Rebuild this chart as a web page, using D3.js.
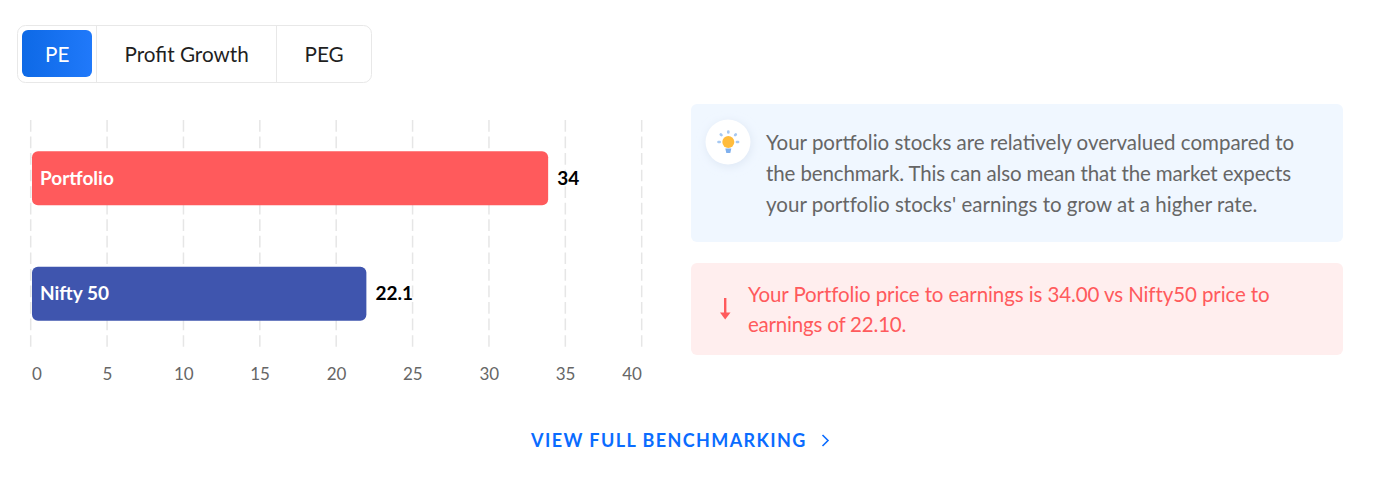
<!DOCTYPE html>
<html>
<head>
<meta charset="utf-8">
<script src="https://cdn.jsdelivr.net/npm/d3@7"></script>
<style>
  html, body { margin: 0; padding: 0; background: #fff; }
  #chart { position: relative; width: 1390px; height: 496px; overflow: hidden; }
  svg { position: absolute; left: 0; top: 0; display: block; }
  .t { position: absolute; font-family: Lato, sans-serif; white-space: nowrap; line-height: 1; }
</style>
</head>
<body>
<div id="chart"></div>
<script>
const categories = ["Portfolio", "Nifty 50"];
const values = [34, 22.1];
const barColors = ["#ff5a5c", "#3f55ae"];
const ticks = [0, 5, 10, 15, 20, 25, 30, 35, 40];
const tabs = ["PE", "Profit Growth", "PEG"];
const tipLines = [
  "Your portfolio stocks are relatively overvalued compared to",
  "the benchmark. This can also mean that the market expects",
  "your portfolio stocks' earnings to grow at a higher rate."
];
const alertLines = [
  "Your Portfolio price to earnings is 34.00 vs Nifty50 price to",
  "earnings of 22.10."
];

const chart = d3.select("#chart");
const svg = chart.append("svg")
  .attr("width", 1390)
  .attr("height", 496);

// html text sits on top of the svg, baseline = top + roughly 0.86 of size
function label(x, base, size, color, str, opts) {
  opts = opts || {};
  const el = chart.append("div")
    .attr("class", "t")
    .style("top", (base - size * 0.86) + "px")
    .style("left", x + "px")
    .style("font-size", size + "px")
    .style("color", color)
    .style("font-weight", opts.weight || 400)
    .style("letter-spacing", opts.spacing || "normal")
    .text(str);
  if (opts.center) el.style("transform", "translateX(-50%)");
  return el;
}

const defs = svg.append("defs");
const grad = defs.append("linearGradient").attr("id", "tabBlue");
grad.append("stop").attr("offset", "0%").attr("stop-color", "#0d69e6");
grad.append("stop").attr("offset", "100%").attr("stop-color", "#2079fa");
const blur = defs.append("filter").attr("id", "soft")
  .attr("x", "-50%").attr("y", "-50%").attr("width", "200%").attr("height", "200%");
blur.append("feGaussianBlur").attr("stdDeviation", 4);

// Tabs
svg.append("rect")
  .attr("x", 17.5).attr("y", 25.5)
  .attr("width", 354).attr("height", 57).attr("rx", 8)
  .attr("fill", "#fff").attr("stroke", "#e8e8e8");
[96.5, 276.5].forEach(x => {
  svg.append("line")
    .attr("x1", x).attr("x2", x).attr("y1", 26).attr("y2", 82)
    .attr("stroke", "#e8e8e8");
});
svg.append("rect")
  .attr("x", 22).attr("y", 30)
  .attr("width", 70).attr("height", 47).attr("rx", 6)
  .attr("fill", "url(#tabBlue)");
const tabX = [45, 124.5, 304.5];
tabs.forEach((d, i) => label(tabX[i], 61.6, 20.7, i === 0 ? "#fff" : "#1f1f1f", d));

// Scales
const xScale = d3.scaleLinear().domain([0, 40]).range([31, 642]);
const yScale = d3.scaleBand()
  .domain(categories)
  .range([120, 352])
  .paddingInner(0.532)
  .paddingOuter(0.27);

// Grid
svg.selectAll(".grid")
  .data(ticks)
  .enter()
  .append("line")
    .attr("class", "grid")
    .attr("x1", d => xScale(d) - 0.3)
    .attr("x2", d => xScale(d) - 0.3)
    .attr("y1", 120)
    .attr("y2", 347)
    .attr("stroke", "#e6e6e6")
    .attr("stroke-width", 1.5)
    .attr("stroke-dasharray", "11.7 4.85");

// Axis labels
const tickShift = d => d === 0 ? 6 : (d === 40 ? -10 : 0);
ticks.forEach(d => {
  label(xScale(d) + tickShift(d), 380, 17, "#666", d, { center: true });
});

// Bars
svg.selectAll(".bar")
  .data(values)
  .enter()
  .append("rect")
    .attr("class", "bar")
    .attr("x", 32)
    .attr("y", (d, i) => yScale(categories[i]))
    .attr("width", d => xScale(d) - 32 - 2.2)
    .attr("height", yScale.bandwidth())
    .attr("rx", 6)
    .attr("fill", (d, i) => barColors[i]);

values.forEach((d, i) => {
  const base = yScale(categories[i]) + yScale.bandwidth() / 2 + 5.9;
  label(40, base, 19, "#fff", categories[i], { weight: 700 });
  label(xScale(d) + 7, base, 19, "#000", d, { weight: 700 });
});

// Tip panel
svg.append("rect")
  .attr("x", 691).attr("y", 104)
  .attr("width", 652).attr("height", 138).attr("rx", 6)
  .attr("fill", "#f0f7ff");
svg.append("circle")
  .attr("cx", 729).attr("cy", 144).attr("r", 23)
  .attr("fill", "#dfe8f5").attr("filter", "url(#soft)");
svg.append("circle")
  .attr("cx", 728).attr("cy", 142).attr("r", 22.5)
  .attr("fill", "#fff");

// Bulb icon
const bulb = svg.append("g").attr("transform", "translate(728.3,142)");
bulb.append("circle").attr("cx", 0).attr("cy", 0).attr("r", 6).attr("fill", "#ffbc3d");
bulb.append("path").attr("d", "M-3 6.5 L3 6.5 L2 11 L-2 11 Z").attr("fill", "#7fb0ee");
[[0, -10.5, 0, -9.5], [-7.5, -7.5, -6.8, -6.8], [7.5, -7.5, 6.8, -6.8], [-9.8, 0, -8.6, 0], [9.8, 0, 8.6, 0]].forEach(p => {
  bulb.append("line")
    .attr("x1", p[0]).attr("y1", p[1]).attr("x2", p[2]).attr("y2", p[3])
    .attr("stroke", "#a6c8f2").attr("stroke-width", 2.6).attr("stroke-linecap", "round");
});

const tipSpacing = ["0px", "-0.12px", "0.02px"];
tipLines.forEach((d, i) => label(766, 150 + i * 31, 20.5, "#666", d, { spacing: tipSpacing[i] }));

// Alert panel
svg.append("rect")
  .attr("x", 691).attr("y", 263)
  .attr("width", 652).attr("height", 92).attr("rx", 6)
  .attr("fill", "#ffeeee");
svg.append("line")
  .attr("x1", 725.2).attr("x2", 725.2).attr("y1", 298).attr("y2", 316)
  .attr("stroke", "#ff5a5c").attr("stroke-width", 2.4);
svg.append("path")
  .attr("d", "M720 312.5 L730.5 312.5 L725.2 319.5 Z")
  .attr("fill", "#ff5a5c");
const alertSpacing = ["-0.1px", "-0.2px"];
alertLines.forEach((d, i) => label(748, 302 + i * 30, 20.5, "#ff5a5c", d, { spacing: alertSpacing[i] }));

// Link
label(531, 446.5, 18, "#0a6cff", "VIEW FULL BENCHMARKING", { weight: 700, spacing: "1.4px" });
svg.append("path")
  .attr("d", "M822.5 435 L828 440.5 L822.5 446")
  .attr("fill", "none")
  .attr("stroke", "#0a6cff")
  .attr("stroke-width", 1.6);
</script>
</body>
</html>
